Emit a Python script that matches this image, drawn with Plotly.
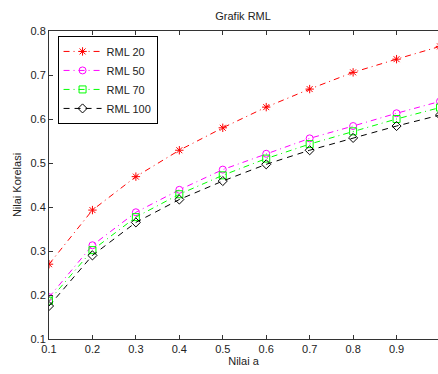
import plotly.graph_objects as go

x_vals = [0.1, 0.2, 0.3, 0.4, 0.5, 0.6, 0.7, 0.8, 0.9, 1.0]
rml20 = [0.270, 0.393, 0.469, 0.529, 0.580, 0.627, 0.668, 0.706, 0.736, 0.765]
rml50 = [0.195, 0.313, 0.388, 0.439, 0.485, 0.521, 0.556, 0.584, 0.613, 0.640]
rml70 = [0.187, 0.302, 0.377, 0.429, 0.472, 0.510, 0.543, 0.572, 0.600, 0.626]
rml100 = [0.175, 0.290, 0.365, 0.417, 0.459, 0.497, 0.529, 0.557, 0.584, 0.609]
series_names = ["RML 20", "RML 50", "RML 70", "RML 100"]
x_ticks = [0.1, 0.2, 0.3, 0.4, 0.5, 0.6, 0.7, 0.8, 0.9]
y_ticks = [0.1, 0.2, 0.3, 0.4, 0.5, 0.6, 0.7, 0.8]

styles = [
    dict(color="#ff0000", dash="6px,4px,1px,4px", symbol="asterisk-open"),
    dict(color="#ff00ff", dash="6px,4px,1px,4px", symbol="circle-open"),
    dict(color="#00ff00", dash="6px,4px,1px,4px", symbol="square-open"),
    dict(color="#000000", dash="6px,5px", symbol="diamond-open"),
]

fig = go.Figure()
for name, ys, st in zip(series_names, [rml20, rml50, rml70, rml100], styles):
    fig.add_trace(go.Scatter(
        x=x_vals, y=ys, name=name, mode="lines+markers",
        line=dict(color=st["color"], dash=st["dash"], width=1),
        marker=dict(symbol=st["symbol"], size=7, color=st["color"],
                    line=dict(color=st["color"], width=1)),
        cliponaxis=True,
    ))

font_family = "Liberation Sans, Arial, sans-serif"
fig.update_layout(
    width=438, height=374,
    margin=dict(l=49, r=0, t=31, b=35, autoexpand=False),
    paper_bgcolor="white", plot_bgcolor="white",
    font=dict(family=font_family, size=11, color="#222222"),
    title=dict(text="Grafik RML", x=0.555, xanchor="center", y=0.957, yanchor="middle",
               font=dict(size=11, color="#222222"), automargin=False),
    showlegend=True,
    legend=dict(x=0.022, y=0.984, xanchor="left", yanchor="top",
                bgcolor="white", bordercolor="#000000", borderwidth=1,
                font=dict(size=11, color="#222222"), tracegroupgap=0,
                itemwidth=38),
    xaxis=dict(range=[0.1, 0.9954], tickvals=x_ticks,
               ticktext=[f"{v:.1f}" for v in x_ticks],
               ticks="inside", ticklen=4, tickcolor="#333333",
               showline=True, linecolor="#333333", linewidth=1, mirror="ticks",
               showgrid=False, zeroline=False, automargin=False,
               title=dict(text="Nilai a", standoff=2, font=dict(size=11))),
    yaxis=dict(range=[0.1, 0.8], tickvals=y_ticks,
               ticktext=[f"{v:.1f}" for v in y_ticks],
               ticks="inside", ticklen=4, tickcolor="#333333",
               showline=True, linecolor="#333333", linewidth=1,
               showgrid=False, zeroline=False, automargin=False,
               title=dict(text="Nilai Korelasi", standoff=6, font=dict(size=11))),
)

fig.write_html("out.html", config={"displayModeBar": False},
               post_script="document.body.style.margin='0';document.body.style.overflow='hidden';")
